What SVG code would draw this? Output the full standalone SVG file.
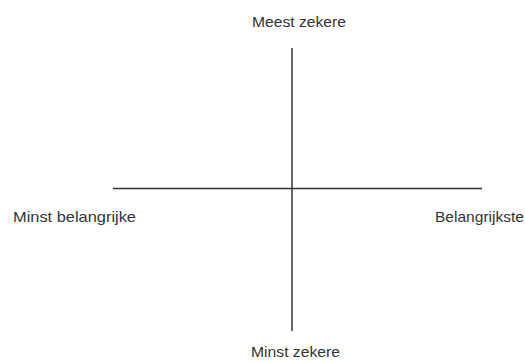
<svg xmlns="http://www.w3.org/2000/svg" width="525" height="362" viewBox="0 0 525 362">
<style>
.t{font-family:"Liberation Sans",Arial,sans-serif;font-size:15px;fill:#333}
.ax{stroke:#333;stroke-width:1.5;fill:none}
</style>
<rect width="525" height="362" fill="#fff"/>
<g id="connectors">
<line class="ax" x1="292" y1="48" x2="292" y2="331"/>
<line class="ax" x1="113" y1="188.5" x2="482" y2="188.5"/>
</g>
<g id="top"><text class="t" x="252" y="27" textLength="94" lengthAdjust="spacingAndGlyphs">Meest zekere</text></g>
<g id="left"><text class="t" x="13" y="222" textLength="123" lengthAdjust="spacingAndGlyphs">Minst belangrijke</text></g>
<g id="right"><text class="t" x="435" y="222" textLength="89" lengthAdjust="spacingAndGlyphs">Belangrijkste</text></g>
<g id="bottom"><text class="t" x="251" y="357" textLength="89" lengthAdjust="spacingAndGlyphs">Minst zekere</text></g>
</svg>
